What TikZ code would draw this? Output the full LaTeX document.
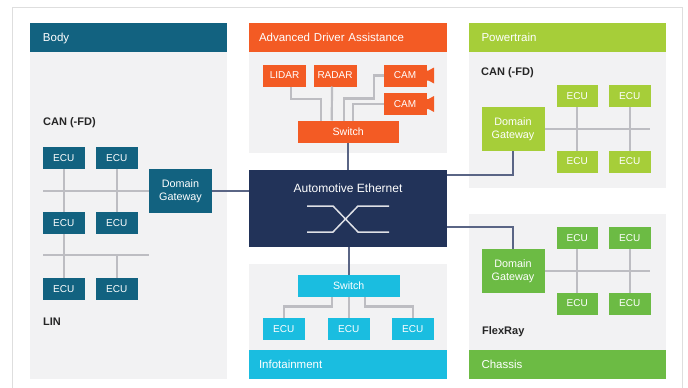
\documentclass[tikz,border=0pt]{standalone}
\usepackage{fontspec}
\setmainfont{Liberation Sans}
\definecolor{cBody}{HTML}{126280}
\definecolor{cAdas}{HTML}{F35B24}
\definecolor{cPower}{HTML}{A6CE39}
\definecolor{cChassis}{HTML}{6CBB44}
\definecolor{cInfo}{HTML}{1ABDE0}
\definecolor{cCore}{HTML}{223359}
\definecolor{cPanel}{HTML}{F2F2F3}
\definecolor{cBus}{HTML}{BDBDC2}
\definecolor{cLink}{HTML}{5A6585}
\definecolor{cFrame}{HTML}{DEDEDE}
\tikzset{
  x=1pt,y=-1pt,
  panel/.style={anchor=north west,fill=cPanel,inner sep=0pt,outer sep=0pt},
  boxbase/.style={anchor=north west,inner sep=0pt,outer sep=0pt,text=white,font=\fontsize{10}{13}\selectfont,align=center},
  ecu/.style={boxbase,fill=#1,minimum width=41.5pt,minimum height=22pt},
  gateway/.style={boxbase,fill=#1,minimum width=63pt,minimum height=43.5pt,font=\fontsize{10.8}{13}\selectfont},
  swbox/.style={boxbase,fill=#1,minimum width=101.5pt,minimum height=22pt,font=\fontsize{10.6}{13}\selectfont},
  header/.style={anchor=north west,fill=#1,inner sep=0pt,outer sep=0pt,minimum height=29pt,text=white,font=\fontsize{11.5}{13}\selectfont,align=left,text height=9pt,text depth=1pt},
  note/.style={anchor=west,inner sep=0pt,text=black!85,font=\fontsize{11}{12}\selectfont\bfseries},
  bus/.style={draw=cBus,line width=2.2pt},
  link/.style={draw=cLink,line width=2.2pt},
}
\begin{document}
\begin{tikzpicture}
\useasboundingbox (0,0) rectangle (688,388);
\fill[white] (0,0) rectangle (688,388);
\draw[cFrame,line width=1.2pt] (12.5,388) -- (12.5,7.5) -- (682.5,7.5) -- (682.5,388);

% panels
\node[panel,minimum width=197pt,minimum height=327pt] (pBody) at (30,52) {};
\node[panel,minimum width=198pt,minimum height=101pt] (pAdas) at (249,52) {};
\node[panel,minimum width=197pt,minimum height=136pt] (pPower) at (469,52) {};
\node[panel,minimum width=198pt,minimum height=86pt] (pInfo) at (249,264) {};
\node[panel,minimum width=197pt,minimum height=136pt] (pChassis) at (469,214) {};

% headers
\node[header=cBody,minimum width=197pt,text width=197pt] (hBody) at (30,23) {\hspace*{13pt}Body};
\node[header=cAdas,minimum width=198pt,text width=198pt] (hAdas) at (249,23) {\hspace*{10pt}Advanced Driver Assistance};
\node[header=cPower,minimum width=197pt,text width=197pt] (hPower) at (469,23) {\hspace*{12.5pt}Powertrain};
\node[header=cInfo,minimum width=198pt,text width=198pt] (hInfo) at (249,350) {\hspace*{10pt}Infotainment};
\node[header=cChassis,minimum width=197pt,text width=197pt] (hChassis) at (469,350) {\hspace*{12.5pt}Chassis};

% labels
\node[note] (tCanBody) at (43,122.5) {CAN (-FD)};
\node[note] (tLin) at (43,322) {LIN};
\node[note] (tCanPower) at (481,72.5) {CAN (-FD)};
\node[note] (tFlex) at (482,332) {FlexRay};

% core
\node[anchor=north west,fill=cCore,inner sep=0pt,outer sep=0pt,minimum width=198pt,minimum height=77pt] (core) at (249,170) {};
\node[text=white,inner sep=0pt,font=\fontsize{12}{14}\selectfont] (coreText) at (348,188) {Automotive Ethernet};
\coordinate (xTL) at (307,206); \coordinate (xTR) at (389,206);
\coordinate (xBL) at (307,232); \coordinate (xBR) at (389,232);
\draw[white!85!cCore,line width=1.5pt] (xTL) -- (333,206) -- (358,232) -- (xBR);
\draw[white!85!cCore,line width=1.5pt] (xBL) -- (333,232) -- (358,206) -- (xTR);

% Body
\node[ecu=cBody] (b1) at (43,147) {ECU};
\node[ecu=cBody] (b2) at (96,147) {ECU};
\node[ecu=cBody] (b3) at (43,212) {ECU};
\node[ecu=cBody] (b4) at (96,212) {ECU};
\node[ecu=cBody] (b5) at (43,278) {ECU};
\node[ecu=cBody] (b6) at (96,278) {ECU};
\node[gateway=cBody] (gBody) at (149,169) {Domain\\Gateway};
\coordinate (canL) at (43,190.75);
\coordinate (linL) at (43,255); \coordinate (linR) at (149,255);
\draw[bus] (canL) -- (gBody.west);
\draw[bus] (linL) -- (linR);
\draw[bus] (b1.south) -- (b3.north);
\draw[bus] (b2.south) -- (b4.north);
\draw[bus] (b3.south) -- (b5.north);
\draw[bus] (b6.north) -- (b6.north |- linL);
\draw[link] (gBody.east) -- (core.west |- gBody.east);

% ADAS
\node[ecu=cAdas,minimum width=43pt] (lidar) at (263,64.5) {LIDAR};
\node[ecu=cAdas,minimum width=43pt] (radar) at (313.5,64.5) {RADAR};
\node[ecu=cAdas,minimum width=43pt] (cam1) at (383.5,64.5) {CAM};
\node[ecu=cAdas,minimum width=43pt] (cam2) at (383.5,93) {CAM};
\node[swbox=cAdas] (swA) at (297.5,120.5) {Switch};
\foreach \c in {cam1,cam2}{
  \fill[cAdas] (\c.east) ++(-1,-5) -- ++(3,0) -- ++(5.5,-3) -- ++(0,16) -- ++(-5.5,-3) -- ++(-3,0) -- cycle;
}
\draw[bus] ([xshift=6.5pt]lidar.south) -- ++(0,12.5) -| ([xshift=-27pt]swA.north);
\draw[bus] ([xshift=-3pt]radar.south) -- ([xshift=-16.5pt]swA.north);
\draw[bus] (cam1.west) -- ++(-9.5,0) |- (355,98.5) -| ([xshift=-4.5pt]swA.north);
\draw[bus] (cam2.west) -| ([xshift=4.5pt]swA.north);
\draw[link] (swA.south) -- (swA.south |- core.north);

% Infotainment
\node[swbox=cInfo] (swI) at (298,275) {Switch};
\node[ecu=cInfo] (i1) at (263,318) {ECU};
\node[ecu=cInfo] (i2) at (328,318) {ECU};
\node[ecu=cInfo] (i3) at (392,318) {ECU};
\draw[bus] ([xshift=-16.5pt]swI.south) |- (295,306.5) -| (i1.north);
\draw[bus] (swI.south) -- (swI.south |- i2.north);
\draw[bus] ([xshift=16.5pt]swI.south) |- (400,306.5) -| (i3.north);
\draw[link] (swI.north) -- (swI.north |- core.south);

% Powertrain
\node[gateway=cPower] (gPower) at (481.5,107) {Domain\\Gateway};
\node[ecu=cPower] (p1) at (556.5,85) {ECU};
\node[ecu=cPower] (p2) at (609,85) {ECU};
\node[ecu=cPower] (p3) at (556.5,150.5) {ECU};
\node[ecu=cPower] (p4) at (609,150.5) {ECU};
\coordinate (pR) at (650,128.75);
\draw[bus] (gPower.east) -- (pR);
\draw[bus] (p1.south) -- (p3.north);
\draw[bus] (p2.south) -- (p4.north);
\coordinate (pTap) at (447,175);
\draw[link] (pTap) -| (gPower.south);

% Chassis
\node[gateway=cChassis] (gChassis) at (481.5,249) {Domain\\Gateway};
\node[ecu=cChassis] (c1) at (556.5,227) {ECU};
\node[ecu=cChassis] (c2) at (609,227) {ECU};
\node[ecu=cChassis] (c3) at (556.5,292.5) {ECU};
\node[ecu=cChassis] (c4) at (609,292.5) {ECU};
\coordinate (cR) at (650,270.75);
\draw[bus] (gChassis.east) -- (cR);
\draw[bus] (c1.south) -- (c3.north);
\draw[bus] (c2.south) -- (c4.north);
\coordinate (cTap) at (447,227);
\draw[link] (cTap) -| (gChassis.north);
\end{tikzpicture}
\end{document}
